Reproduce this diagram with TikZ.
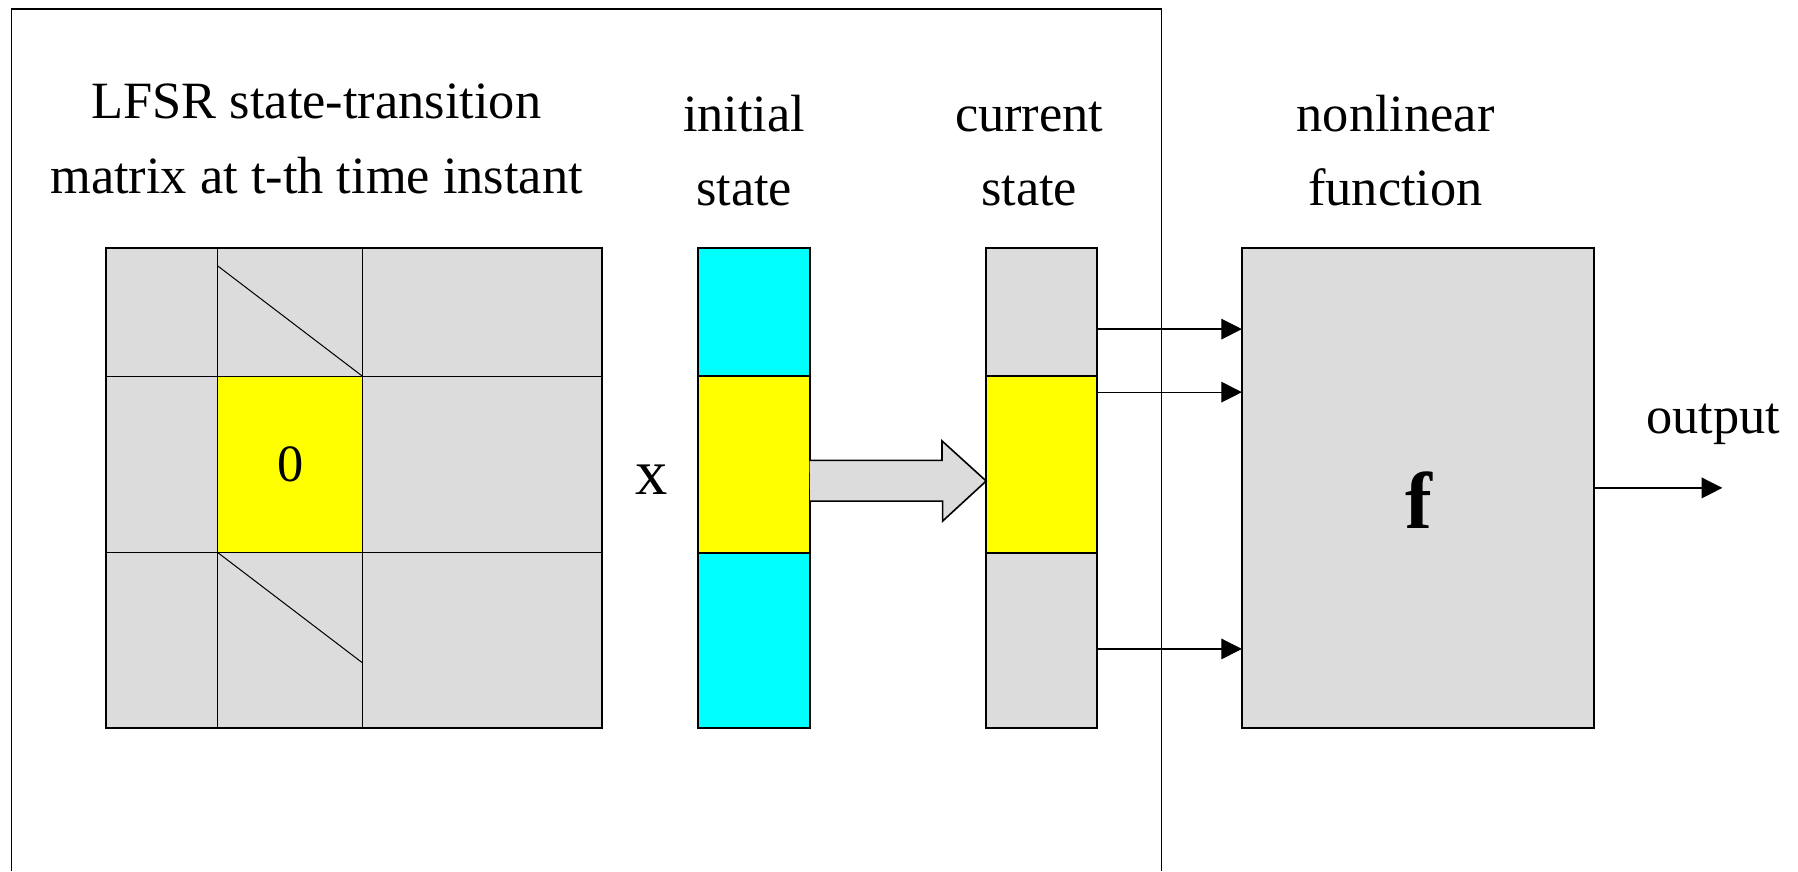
\documentclass[tikz,border=0pt]{standalone}
\usepackage{fontspec}
\setmainfont{Liberation Serif}
\usetikzlibrary{positioning, arrows.meta}
\definecolor{blockgray}{RGB}{220,220,220}
\definecolor{bitcyan}{RGB}{0,255,255}
\definecolor{bityellow}{RGB}{255,255,0}
\tikzset{
>={Triangle[length=0.36cm, width=0.36cm]}, % filled arrow heads
every node/.style={font=\fontsize{26}{37}\selectfont}, % Times-like text everywhere
block/.style={draw, line width=1pt, fill=blockgray, inner sep=0pt, outer sep=0pt}, % grey boxes
bit/.style={block, minimum width=1.94cm}, % one part of a state vector
grid/.style={line width=0.5pt}, % inner lines of the matrix
frame/.style={line width=0.8pt}, % border round the LFSR part
wire/.style={->, line width=0.6pt}, % thin arrows
}

\begin{document}
\begin{tikzpicture}[x=0.02cm, y=-0.02cm]
    \useasboundingbox (0,0) rectangle (1568,760);
    \draw[frame] (10,760) -- (10,8) -- (1013,8) -- (1013,760);

    % state-transition matrix
    \node[block, minimum width=8.66cm, minimum height=8.38cm] (mtx) at (308.5,425.5) {};
    \node[block, grid, fill=bityellow, minimum width=2.52cm, minimum height=3.08cm] (zero) at (253,405) {0};
    \draw[grid] (zero.north west |- mtx.north) -- (zero.north west)
                (zero.south west) -- (zero.south west |- mtx.south)
                (zero.north east |- mtx.north) -- (zero.north east)
                (zero.south east) -- (zero.south east |- mtx.south)
                (mtx.west |- zero.north) -- (zero.north west)
                (zero.north east) -- (mtx.east |- zero.north)
                (mtx.west |- zero.south) -- (zero.south west)
                (zero.south east) -- (mtx.east |- zero.south);
    \draw[grid] ([yshift=1.92cm]zero.north west) -- (zero.north east)
                (zero.south west) -- ([yshift=-1.92cm]zero.south east);
    \node[align=center] (mtxlbl) at (276,121) {LFSR state-transition\\matrix at t-th time instant};

    \node[font=\fontsize{32}{32}\selectfont] (times) at (568,418) {x};

    % initial state
    \node[bit, fill=bitcyan, minimum height=2.24cm] (init1) at (657.5,272) {};
    \node[bit, fill=bityellow, minimum height=3.08cm, below=0pt of init1] (init2) {};
    \node[bit, fill=bitcyan, minimum height=3.06cm, below=0pt of init2] (init3) {};
    \node[align=center, above=0.6cm of init1, xshift=-0.17cm] (initlbl) {initial\\state};

    % current state
    \node[bit, minimum height=2.24cm] (cur1) at (908.5,272) {};
    \node[bit, fill=bityellow, minimum height=3.08cm, below=0pt of cur1] (cur2) {};
    \node[bit, minimum height=3.06cm, below=0pt of cur2] (cur3) {};
    \node[align=center, above=0.6cm of cur1, xshift=-0.22cm] (curlbl) {current\\state};

    \draw[line width=0.8pt, fill=blockgray] ([yshift=0.07cm]init2.east) -- ++(2.31cm,0) -- ++(0,0.34cm)
        -- ([yshift=-0.29cm]cur2.west) -- ++(-0.76cm,-0.70cm) -- ++(0,0.35cm) -- ++(-2.31cm,0);

    % nonlinear function
    \node[block, minimum width=6.14cm, minimum height=8.38cm] (fbox) at (1236.5,425.5) {};
    \node[font=\fontsize{40}{40}\selectfont\bfseries] (fsym) at (1237,436) {f};
    \node[align=center, above=0.6cm of fbox, xshift=-0.39cm] (flbl) {nonlinear\\function};

    \coordinate (in1) at ([yshift=-0.3cm]cur1.east);
    \coordinate (in2) at ([yshift=1.26cm]cur2.east);
    \coordinate (in3) at ([yshift=-0.15cm]cur3.east);
    \draw[wire] (in1) -- (in1 -| fbox.west);
    \draw[wire] (in2) -- (in2 -| fbox.west);
    \draw[wire] (in3) -- (in3 -| fbox.west);

    \coordinate (out) at (1502,425.5);
    \draw[wire] (fbox) -- (out);
    \node (outlbl) at (1494,370) {output};
\end{tikzpicture}
\end{document}
